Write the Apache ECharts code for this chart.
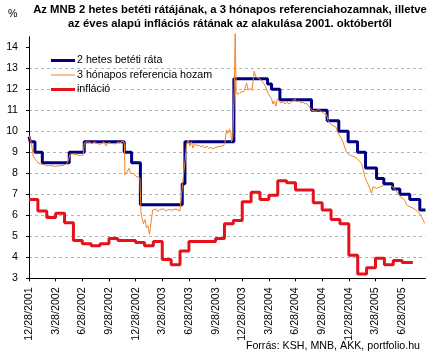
<!DOCTYPE html>
<html>
<head>
<meta charset="utf-8">
<script src="https://cdn.jsdelivr.net/npm/echarts@6/dist/echarts.min.js"></script>
<style>
html,body{margin:0;padding:0;background:#fff;}
#c{width:435px;height:357px;}
</style>
</head>
<body>
<div id="c"></div>
<script>
// x values are months elapsed since 12/28/2001
const tickLabels = ['12/28/2001','3/28/2002','6/28/2002','9/28/2002','12/28/2002','3/28/2003','6/28/2003','9/28/2003','12/28/2003','3/28/2004','6/28/2004','9/28/2004','12/28/2004','3/28/2005','6/28/2005'];
const xEnd = 44.63;

// 2 hetes betéti ráta: [month where rate takes effect, rate]
const depositRate = [
  [0, 9.75], [0.15, 9.5], [0.67, 9.0], [1.5, 8.5], [4.53, 9.0], [6.22, 9.5],
  [10.72, 9.0], [11.55, 8.5], [12.54, 6.5], [17.25, 7.5], [17.55, 9.5],
  [23.06, 12.5], [26.85, 12.25], [27.3, 12.0], [28.24, 11.5], [31.8, 11.0],
  [33.56, 10.5], [34.87, 10.0], [35.92, 9.5], [36.98, 9.0], [37.88, 8.25],
  [39.12, 7.75], [39.94, 7.5], [40.92, 7.25], [41.74, 7.0], [42.86, 6.75],
  [43.99, 6.25], [44.63, 6.25]
];

// 3 hónapos referencia hozam: [month, yield]
const refYield = [
  [0,9.79],[0.17,9.6],[0.30,9.35],[0.48,8.8],[0.675,8.71],[0.87,8.59],[1.05,8.48],[1.24,8.45],[1.43,8.43],[1.61,8.38],
  [1.80,8.4],[2.03,8.35],[2.25,8.42],[2.48,8.37],[2.70,8.4],[2.93,8.33],[3.15,8.4],[3.38,8.36],[3.60,8.42],[3.83,8.37],
  [4.05,8.43],[4.24,8.45],[4.42,8.59],[4.61,8.9],[4.80,8.85],[4.98,8.92],[5.18,8.86],[5.40,8.9],[5.63,8.84],[5.85,8.9],
  [6.11,8.88],[6.22,9.43],[6.49,9.5],[6.67,9.42],[6.86,9.47],[7.09,9.4],[7.31,9.5],[7.54,9.44],[7.76,9.52],[7.99,9.38],
  [8.21,9.45],[8.44,9.5],[8.66,9.3],[8.89,9.45],[9.11,9.5],[9.34,9.42],[9.56,9.48],[9.79,9.4],[10.01,9.5],[10.24,9.45],
  [10.43,9.52],[10.61,9.55],[10.74,9.4],[10.80,7.92],[10.91,7.95],[11.08,8.1],[11.25,8.24],[11.42,8.0],[11.59,7.95],[11.81,7.98],
  [12.04,7.85],[12.26,7.92],[12.49,7.78],[12.60,6.17],[12.71,5.9],[12.88,5.6],[13.05,5.8],[13.22,5.4],[13.39,5.5],[13.56,5.1],
  [13.67,5.06],[13.78,5.15],[13.92,6.25],[14.06,6.2],[14.29,6.3],[14.51,6.18],[14.74,6.28],[14.96,6.22],[15.19,6.3],[15.41,6.2],
  [15.64,6.27],[15.86,6.18],[16.09,6.25],[16.31,6.2],[16.54,6.3],[16.76,6.22],[16.99,6.2],[17.18,6.25],[17.29,7.52],[17.55,8.55],
  [17.74,9.35],[17.92,9.58],[18.11,9.3],[18.28,9.5],[18.45,9.2],[18.68,9.45],[18.87,9.3],[19.13,9.35],[19.35,9.25],[19.58,9.32],
  [19.80,9.2],[20.03,9.3],[20.25,9.18],[20.48,9.25],[20.70,9.15],[20.93,9.22],[21.15,9.2],[21.38,9.28],[21.60,9.25],[21.83,9.3],
  [22.05,9.43],[22.22,10.06],[22.39,9.9],[22.56,10.1],[22.73,9.95],[22.80,9.5],[22.95,9.7],[23.10,11.97],[23.21,14.65],[23.32,11.9],
  [23.51,11.75],[23.74,11.85],[23.96,11.8],[24.19,11.9],[24.36,11.85],[24.49,12.3],[24.67,11.95],[24.86,12.05],[25.09,11.95],[25.35,12.86],
  [25.54,12.6],[25.76,12.62],[25.99,12.5],[26.21,12.46],[26.38,12.3],[26.55,12.2],[26.74,12.14],[26.92,11.8],[27.11,11.75],[27.30,11.55],
  [27.45,11.3],[27.62,11.45],[27.79,11.2],[27.96,11.55],[28.13,11.5],[28.35,11.35],[28.58,11.42],[28.80,11.3],[29.03,11.4],[29.25,11.3],
  [29.48,11.38],[29.70,11.45],[29.93,11.54],[30.15,11.4],[30.38,11.45],[30.60,11.35],[30.83,11.4],[31.05,11.3],[31.28,11.32],[31.50,11.25],
  [31.67,11.1],[31.84,11.0],[32.06,11.08],[32.29,10.95],[32.51,11.05],[32.74,11.0],[32.96,10.95],[33.19,10.85],[33.49,10.8],[33.67,10.5],
  [33.86,10.4],[34.09,10.3],[34.31,10.25],[34.54,10.2],[34.71,10.0],[34.88,9.85],[35.10,9.7],[35.33,9.5],[35.55,9.43],[35.74,9.0],
  [35.94,8.95],[36.17,8.85],[36.39,8.9],[36.62,8.8],[36.84,8.82],[37.05,8.65],[37.24,8.55],[37.46,8.45],[37.63,8.16],[37.80,7.84],
  [38.03,7.6],[38.25,7.4],[38.42,7.2],[38.55,7.05],[38.73,7.36],[38.93,7.3],[39.12,7.28],[39.30,7.2],[39.49,7.35],[39.71,7.3],
  [39.94,7.42],[40.11,7.5],[40.28,7.42],[40.50,7.4],[40.73,7.42],[40.95,7.36],[41.18,7.25],[41.40,7.1],[41.63,7.0],[41.85,6.85],
  [42.08,6.8],[42.30,6.7],[42.49,6.5],[42.69,6.48],[42.92,6.4],[43.14,6.35],[43.37,6.3],[43.59,6.25],[43.80,6.17],[43.99,6.05],
  [44.16,5.95],[44.33,5.8],[44.55,5.62]
];

// infláció: one value per month, starting at month 0
const inflation = [6.75,6.2,5.9,6.1,5.65,4.8,4.65,4.55,4.65,4.9,4.8,4.8,4.7,4.55,4.75,3.9,3.65,4.3,4.75,4.75,4.75,4.9,5.6,5.75,
  6.65,7.1,6.75,6.95,7.65,7.55,7.2,7.2,6.6,6.25,5.8,5.6,4.1,3.2,3.5,3.95,3.65,3.85,3.75];
const inflationEnd = 43.2;

const yTicks = [3,4,5,6,7,8,9,10,11,12,13,14];
const xTickValues = tickLabels.map((_, i) => i * 3);

const inflData = inflation.map((v, i) => [i, v]);
inflData.push([inflationEnd, inflation[inflation.length - 1]]);

const FONT = '"Liberation Sans", Arial, sans-serif';
const THICK = 'path://M0,0L24,0L24,3L0,3Z';
const THIN = 'path://M0,0L24,0L24,1L0,1Z';
const chart = echarts.init(document.getElementById('c'), null, {renderer: 'canvas'});
chart.setOption({
  animation: false,
  backgroundColor: '#ffffff',
  textStyle: {fontFamily: FONT},
  grid: {left: 29, right: 9.5, top: 36.8, bottom: 78.7, containLabel: false},
  graphic: [
    {type: 'text', x: 230, y: 3, style: {text: 'Az MNB 2 hetes betéti rátájának, a 3 hónapos referenciahozamnak, illetve\naz éves alapú inflációs rátának az alakulása 2001. októbertől', textAlign: 'center', fontFamily: FONT, fontWeight: 'bold', fontSize: 11.3, lineHeight: 14, fill: '#000'}},
    {type: 'text', x: 8, y: 9, style: {text: '%', fontFamily: FONT, fontSize: 10.67, fill: '#000'}},
    {type: 'text', x: 420, y: 341, style: {text: 'Forrás: KSH, MNB, AKK, portfolio.hu', textAlign: 'right', fontFamily: FONT, fontSize: 10.67, fill: '#000'}}
  ],
  legend: {
    orient: 'vertical', left: 46, top: 50,
    itemWidth: 24, itemHeight: 14, itemGap: 3.5,
    data: [
      {name: '2 hetes betéti ráta', icon: THICK},
      {name: '3 hónapos referencia hozam', icon: THIN},
      {name: 'infláció', icon: THICK}
    ],
    textStyle: {fontFamily: FONT, fontSize: 10.67, color: '#000', padding: [0,0,0,-3]}
  },
  xAxis: {
    type: 'value', min: 0, max: xEnd, interval: 3,
    axisLine: {lineStyle: {color: '#000', width: 1}},
    axisTick: {show: true, length: 3, lineStyle: {color: '#000'}, customValues: xTickValues},
    axisLabel: {
      customValues: xTickValues, rotate: 90, margin: 9,
      fontFamily: FONT, fontSize: 10.67, color: '#000',
      formatter: v => tickLabels[Math.round(v / 3)] || ''
    },
    splitLine: {show: false}
  },
  yAxis: {
    type: 'value', min: 3, max: 14.5, interval: 1,
    axisLine: {show: true, lineStyle: {color: '#000', width: 1}},
    axisTick: {show: true, length: 3, lineStyle: {color: '#000'}, customValues: yTicks},
    axisLabel: {customValues: yTicks, margin: 11, fontFamily: FONT, fontSize: 10.67, color: '#000'},
    splitLine: {show: true, showMaxLine: false, showMinLine: false, lineStyle: {color: '#b4b4b4', type: [3, 3], width: 1}}
  },
  series: [
    {name: '2 hetes betéti ráta', type: 'line', step: 'end', data: depositRate, symbol: 'none',
     lineStyle: {color: '#000080', width: 3}, itemStyle: {color: '#000080'}, z: 2},
    {name: '3 hónapos referencia hozam', type: 'line', data: refYield, symbol: 'none', clip: false,
     lineStyle: {color: '#f0852a', width: 1}, itemStyle: {color: '#f0852a'}, z: 3},
    {name: 'infláció', type: 'line', step: 'end', data: inflData, symbol: 'none',
     lineStyle: {color: '#e3121b', width: 3}, itemStyle: {color: '#e3121b'}, z: 4}
  ]
});
</script>
</body>
</html>
